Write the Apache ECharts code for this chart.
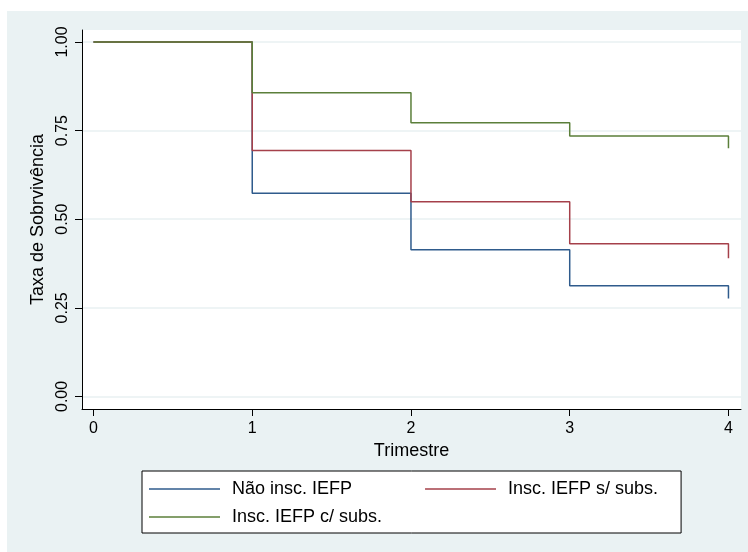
<!DOCTYPE html>
<html>
<head>
<meta charset="utf-8">
<script src="https://cdn.jsdelivr.net/npm/echarts@6/dist/echarts.min.js"></script>
<style>
  html, body { margin: 0; padding: 0; background: #ffffff; }
  #bg { position: absolute; left: 7px; top: 11px; width: 741px; height: 541px; background: #eaf2f3; }
  #chart { position: absolute; left: 0; top: 0; width: 748px; height: 552px; }
</style>
</head>
<body>
<div id="bg"></div>
<div id="chart"></div>
<script>
// Data (Kaplan-Meier style survival estimates)
const quarters = [0, 1, 2, 3, 4];
const seriesNames = ['Não insc. IEFP', 'Insc. IEFP s/ subs.', 'Insc. IEFP c/ subs.'];
const naoInsc = [1.000, 0.573, 0.414, 0.312, 0.276];
const inscSemSubs = [1.000, 0.694, 0.549, 0.431, 0.390];
const inscComSubs = [1.000, 0.857, 0.772, 0.735, 0.700];
const xTicks = [0, 1, 2, 3, 4];
const yTicks = [0, 0.25, 0.5, 0.75, 1];
const yTickLabels = ['0.00', '0.25', '0.50', '0.75', '1.00'];
const colors = ['#2f5b8c', '#a5404a', '#5b7f3a'];

const FONT = "'Liberation Sans', Arial, sans-serif";

function pairs(vals) { return quarters.map((q, i) => [q, vals[i]]); }

const chart = echarts.init(document.getElementById('chart'), null, { renderer: 'canvas' });

const mkSeries = (name, vals, color) => ({
  name: name,
  type: 'line',
  step: 'end',
  symbol: 'none',
  data: pairs(vals),
  lineStyle: { color: color, width: 1.5 },
  itemStyle: { color: color },
  emphasis: { disabled: true },
  animation: false
});

chart.setOption({
  backgroundColor: 'transparent',
  animation: false,
  textStyle: { fontFamily: FONT },
  grid: {
    left: 82, right: 7, top: 30, bottom: 143,
    show: true, backgroundColor: '#ffffff', borderWidth: 0
  },
  xAxis: {
    type: 'value',
    min: -0.0724, max: 4.079,
    name: 'Trimestre',
    nameLocation: 'middle',
    nameGap: 31,
    nameTextStyle: { fontFamily: FONT, fontSize: 18, color: '#000' },
    axisLine: { show: true, onZero: false, lineStyle: { color: '#000', width: 1 } },
    axisTick: { show: true, length: 7, customValues: xTicks, lineStyle: { color: '#000' } },
    axisLabel: { customValues: xTicks, fontFamily: FONT, fontSize: 16, color: '#000', margin: 12,
                 formatter: v => String(v) },
    splitLine: { show: false }
  },
  yAxis: {
    type: 'value',
    min: -0.0355, max: 1.0338,
    name: 'Taxa de Sobrvivência',
    nameLocation: 'middle',
    nameGap: 34,
    nameTextStyle: { fontFamily: FONT, fontSize: 18, color: '#000' },
    axisLine: { show: true, onZero: false, lineStyle: { color: '#000', width: 1 } },
    axisTick: { show: true, length: 7, customValues: yTicks, lineStyle: { color: '#000' } },
    axisLabel: { customValues: yTicks, rotate: 90, fontFamily: FONT, fontSize: 16, color: '#000', margin: 11,
                 formatter: v => yTickLabels[yTicks.indexOf(Math.round(v * 100) / 100)] },
    splitLine: { show: true, lineStyle: { color: '#e8f0f2', width: 1.5 } }
  },
  legend: [
    {
      data: [seriesNames[0], seriesNames[1]],
      left: 142, top: 471,
      orient: 'horizontal',
      padding: [9, 23, 35, 7],
      itemGap: 73,
      icon: 'rect',
      itemWidth: 71, itemHeight: 1.5,
      backgroundColor: '#ffffff',
      borderColor: '#000', borderWidth: 1, borderRadius: 0,
      selectedMode: false,
      textStyle: { fontFamily: FONT, fontSize: 18, color: '#000', lineHeight: 18, padding: [0, 0, 0, 7] }
    },
    {
      data: [seriesNames[2]],
      left: 142, top: 499,
      orient: 'horizontal',
      padding: [9, 0, 0, 7],
      icon: 'rect',
      itemWidth: 71, itemHeight: 1.5,
      z: 10,
      selectedMode: false,
      textStyle: { fontFamily: FONT, fontSize: 18, color: '#000', lineHeight: 18, padding: [0, 0, 0, 7] }
    }
  ],
  series: [
    mkSeries(seriesNames[0], naoInsc, colors[0]),
    mkSeries(seriesNames[1], inscSemSubs, colors[1]),
    mkSeries(seriesNames[2], inscComSubs, colors[2])
  ]
});
</script>
</body>
</html>
